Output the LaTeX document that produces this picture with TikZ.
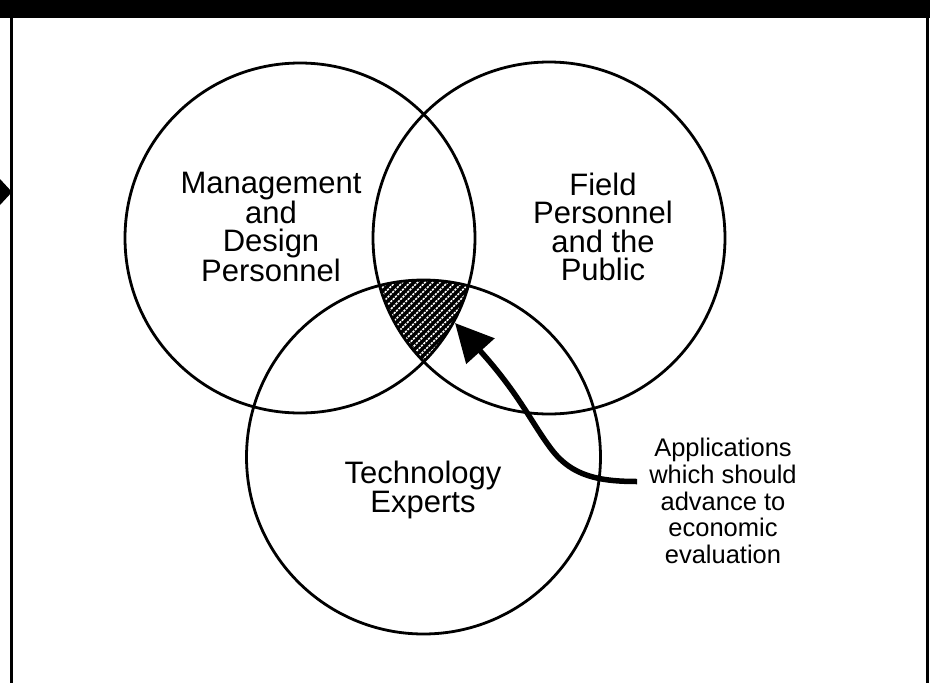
\documentclass[tikz,border=0pt]{standalone}
\usepackage{fontspec}
\setmainfont{Liberation Sans}
\usetikzlibrary{arrows.meta}

\begin{document}
\begin{tikzpicture}[x=1pt,y=-1pt,
  ring/.style={draw=black, line width=2.8pt},
  frame/.style={draw=black, line width=3pt},
  band/.style={fill=black},
  hatchline/.style={draw=white, line width=1.6pt, dash pattern=on 2.2pt off 1.1pt},
  bigtext/.style={align=center, font=\fontsize{31}{28.5}\selectfont, inner sep=0pt},
  smalltext/.style={align=center, font=\fontsize{25.5}{26.7}\selectfont, inner sep=0pt},
  pointer/.style={line width=5.5pt, -{Triangle[length=38pt,width=37pt]}}
]
\useasboundingbox (0,0) rectangle (930,683);
\fill[white] (0,0) rectangle (930,683);
\fill[band] (0,0) rectangle (930,18);
\draw[frame] (11,17) -- (11,683);
\draw[frame] (927,17) -- (927,683);
\fill[black] (0,179) -- (12,192) -- (0,205) -- cycle;

% hatched common region
\begin{scope}
  \clip (300,238) circle[radius=175];
  \clip (549,238) circle[radius=176];
  \fill[black] (423.5,457) circle[radius=177];
  \foreach \a in {240,247.5,...,420} {
    \draw[hatchline] (\a,400) -- ++(140,-140);
  }
\end{scope}

% circles
\draw[ring] (300,238) circle[radius=175];
\draw[ring] (549,238) circle[radius=176];
\draw[ring] (423.5,457) circle[radius=177];

% labels
\node[bigtext] (mgmt) at (271,227) {Management\\and\\Design\\Personnel};
\node[bigtext] (field) at (603,227) {Field\\Personnel\\and the\\Public};
\node[bigtext] (tech) at (423,490) {Technology\\Experts};
\node[smalltext] (apps) at (723,501) {Applications\\which should\\advance to\\economic\\evaluation};

\coordinate (core) at (455,323);
\coordinate (tail) at ([xshift=-12pt,yshift=19.5pt]apps.west);

\draw[pointer] (tail) .. controls +(-38,0) and (572,476) .. (552,450)
  .. controls (532,424) and (520,395) .. (core);
\end{tikzpicture}
\end{document}
